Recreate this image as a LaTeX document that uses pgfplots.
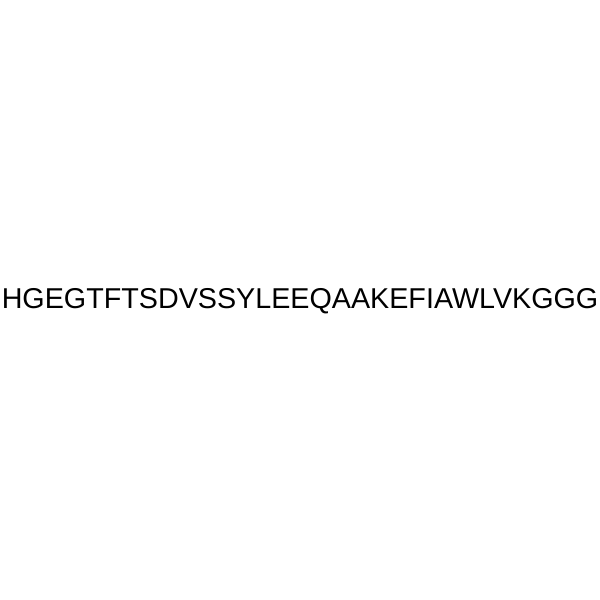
\documentclass[border=0pt]{standalone}
\usepackage{pgfplots}
\pgfplotsset{compat=1.18}
\usepackage{fontspec}
\setmainfont{Liberation Sans}

\begin{document}
\begin{tikzpicture}
\begin{axis}[
    hide axis,
    scale only axis,
    width = 600bp,
    height = 600bp,
    xmin = 0, xmax = 600,
    ymin = 0, ymax = 600,
    clip = false,
]
% invisible frame keeps the page at 600x600
\addplot[draw=none, forget plot] coordinates {(0,0) (600,600)};
\node[anchor=base, inner sep=0pt, font=\fontsize{28.7bp}{31bp}\selectfont]
    at (axis cs:300,291) {HGEGTFTSDVSSYLEEQAAKEFIAWLVKGGG};
\end{axis}
\end{tikzpicture}
\end{document}
